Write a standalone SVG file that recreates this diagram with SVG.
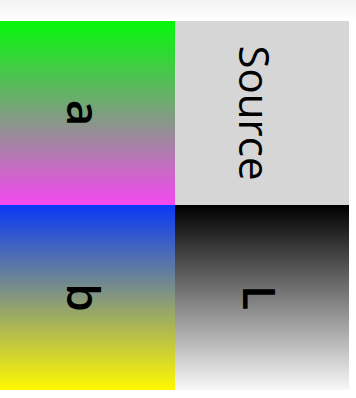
<svg xmlns="http://www.w3.org/2000/svg" width="356" height="398" viewBox="0 0 356 398">
<style>
.lbl{font-family:"Open Sans","Noto Sans",sans-serif;fill:#000;text-anchor:middle}
</style>
<defs>
<linearGradient id="gTop" x1="0" y1="0" x2="0" y2="1"><stop offset="0" stop-color="#f2f2f2"/><stop offset="1" stop-color="#ffffff"/></linearGradient>
<linearGradient id="gA" x1="0" y1="0" x2="0" y2="1"><stop offset="0" stop-color="#05f80a"/><stop offset="1" stop-color="#f548f2"/></linearGradient>
<linearGradient id="gB" x1="0" y1="0" x2="0" y2="1"><stop offset="0" stop-color="#0a38f8"/><stop offset="1" stop-color="#fff800"/></linearGradient>
<linearGradient id="gL" x1="0" y1="0" x2="0" y2="1"><stop offset="0" stop-color="#000000"/><stop offset="1" stop-color="#f8f8f8"/></linearGradient>
</defs>
<rect x="0" y="0" width="356" height="21" fill="url(#gTop)"/>
<g id="node-a">
<rect x="0" y="21" width="175" height="184" fill="url(#gA)"/>
<text class="lbl" font-size="46" font-weight="600" transform="translate(67,113) rotate(90)">a</text>
</g>
<g id="node-source">
<rect x="175" y="21" width="174" height="184" fill="#d6d6d6"/>
<text class="lbl" font-size="42" transform="translate(239,113) rotate(90)">Source</text>
</g>
<g id="node-b">
<rect x="0" y="205" width="175" height="185" fill="url(#gB)"/>
<text class="lbl" font-size="46" font-weight="600" transform="translate(67,297.5) rotate(90)">b</text>
</g>
<g id="node-L">
<rect x="175" y="205" width="174" height="185" fill="url(#gL)"/>
<text class="lbl" font-size="46" font-weight="600" transform="translate(243,297.5) rotate(90)">L</text>
</g>
<g id="connectors"></g>
</svg>
